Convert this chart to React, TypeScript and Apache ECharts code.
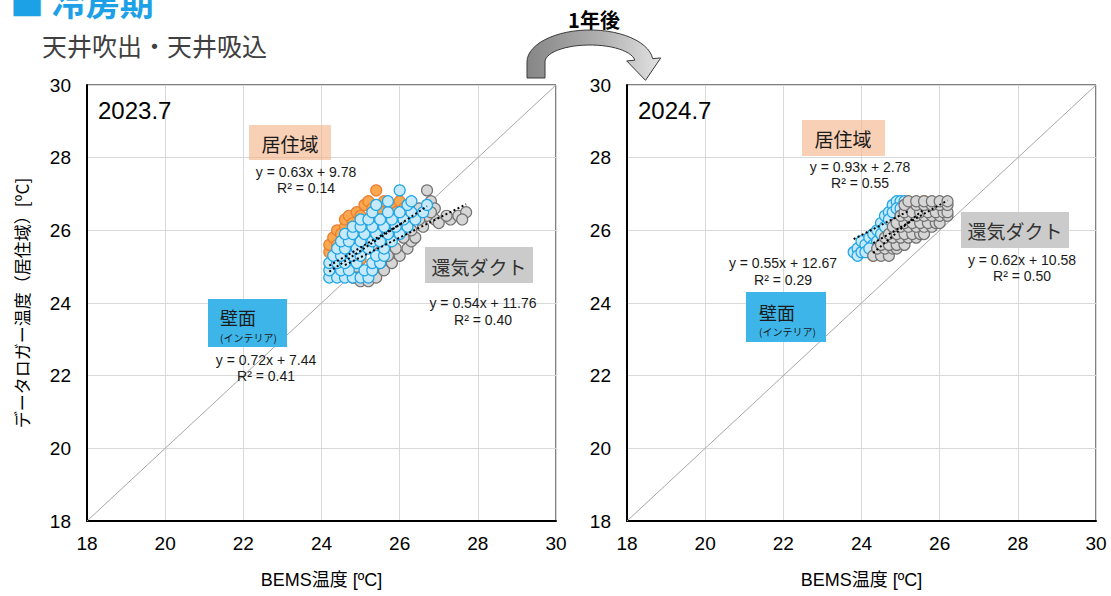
import React, { useEffect, useRef } from "react";
import * as echarts from "echarts";

type Pt = [number, number];

// Axis range shared by both panels
const AXIS_MIN = 18;
const AXIS_MAX = 30;
const AXIS_STEP = 2;

const periods = ["2023.7", "2024.7"];
const zoneNames = ["居住域", "壁面", "還気ダクト"];

// ---- 2023.7 : logger temperature vs BEMS temperature ----
const living2023: Pt[] = [
  [24.2, 25.4], [24.2, 25.6], [24.3, 25.8], [24.4, 25.6], [24.4, 26.0], [24.5, 25.9],
  [24.6, 26.1], [24.6, 26.3], [24.7, 26.4], [24.8, 26.2], [24.9, 26.5], [25.0, 26.4],
  [25.1, 26.7], [25.2, 26.8], [25.4, 27.1], [25.3, 26.6], [25.5, 26.6], [25.6, 26.8],
  [25.8, 26.7], [26.0, 26.8], [25.7, 26.4], [25.9, 26.5], [26.1, 26.6], [24.5, 25.2],
  [24.8, 25.5], [25.0, 25.8], [25.2, 26.0], [25.4, 26.2], [25.6, 26.1], [24.7, 24.9],
  [24.9, 24.7], [25.1, 24.7], [24.8, 24.7], [25.3, 25.0], [25.0, 25.2], [24.3, 25.1],
  [24.6, 25.0], [25.8, 26.2],
];

const wall2023: Pt[] = [
  [24.2, 24.7], [24.4, 24.7], [24.6, 24.7], [24.8, 24.7], [25.0, 24.7], [25.2, 24.7],
  [24.2, 24.9], [24.5, 24.9], [24.7, 24.9], [25.1, 24.9], [25.3, 24.9],
  [24.2, 25.1], [24.4, 25.1], [24.6, 25.1], [24.9, 25.1], [25.3, 25.1], [25.5, 25.1],
  [24.3, 25.3], [24.5, 25.3], [24.8, 25.3], [25.0, 25.3], [25.4, 25.3], [25.6, 25.3],
  [24.4, 25.5], [24.6, 25.5], [24.9, 25.5], [25.2, 25.5], [25.6, 25.5],
  [24.5, 25.7], [24.7, 25.7], [25.0, 25.7], [25.3, 25.7], [25.5, 25.7], [25.8, 25.7],
  [24.6, 25.9], [24.8, 25.9], [25.1, 25.9], [25.4, 25.9], [25.7, 25.9], [26.0, 25.9],
  [24.8, 26.1], [25.0, 26.1], [25.3, 26.1], [25.6, 26.1], [25.9, 26.1], [26.2, 26.1],
  [25.0, 26.3], [25.2, 26.3], [25.5, 26.3], [25.8, 26.3], [26.1, 26.3], [26.4, 26.3],
  [25.3, 26.5], [25.7, 26.5], [26.0, 26.5], [26.3, 26.5], [26.6, 26.5],
  [25.4, 26.7], [26.2, 26.7], [26.7, 26.7], [25.7, 26.8], [26.3, 26.8], [26.0, 27.1],
];

const duct2023: Pt[] = [
  [24.6, 24.9], [24.8, 24.7], [25.0, 24.6], [25.2, 24.6], [25.4, 24.7], [25.6, 24.9],
  [25.8, 25.1], [26.0, 25.3], [26.2, 25.5], [26.3, 25.7], [26.4, 25.8], [26.6, 26.1],
  [26.9, 26.3], [27.0, 26.2], [27.3, 26.3], [27.5, 26.4], [27.7, 26.5], [27.6, 26.3],
  [27.2, 26.4], [26.7, 27.1], [26.8, 26.8], [26.9, 26.6], [26.7, 26.4], [26.5, 26.3],
  [26.3, 26.0], [26.1, 25.8], [25.9, 25.5], [25.7, 25.3], [25.5, 25.1], [25.3, 24.9],
  [25.1, 24.8], [24.9, 25.0], [24.7, 25.2], [25.0, 25.4], [25.3, 25.6], [25.6, 25.8],
  [25.9, 26.0], [26.2, 26.2], [26.5, 26.6], [26.8, 26.5],
];

// ---- 2024.7 ----
const living2024: Pt[] = [
  [24.3, 25.3], [24.4, 25.4], [24.5, 25.6], [24.6, 25.7], [24.7, 25.8], [24.8, 25.9],
  [24.9, 26.0], [25.0, 26.1], [25.1, 26.2], [25.2, 26.3], [25.3, 26.4], [25.4, 26.5],
  [25.5, 26.6], [25.6, 26.8], [25.3, 26.7], [24.9, 25.7], [25.1, 26.0], [25.4, 26.3],
];

const wall2024: Pt[] = [
  [23.8, 25.4], [23.9, 25.5], [23.9, 25.3], [24.0, 25.4], [24.0, 25.7], [24.1, 25.6],
  [24.2, 25.8], [24.1, 25.4], [24.3, 25.9], [24.4, 26.0], [24.3, 25.6], [24.5, 26.2],
  [24.4, 25.7], [24.6, 26.4], [24.5, 25.9], [24.7, 26.5], [24.6, 26.1], [24.8, 26.7],
  [24.7, 26.3], [24.9, 26.8], [25.0, 26.8], [24.8, 26.5], [24.9, 26.6], [25.1, 26.8],
  [25.0, 26.6], [24.6, 25.6], [24.8, 26.0], [24.9, 26.2], [25.0, 26.4], [25.2, 26.7],
  [24.2, 25.5], [24.4, 25.4], [24.5, 25.5],
];

const duct2024: Pt[] = [
  [24.3, 25.3], [24.5, 25.3], [24.7, 25.3],
  [24.4, 25.5], [24.6, 25.5], [24.8, 25.5], [24.9, 25.5],
  [24.5, 25.6], [24.7, 25.6], [24.9, 25.6], [25.1, 25.6],
  [24.6, 25.8], [24.8, 25.8], [25.0, 25.8], [25.2, 25.8], [25.4, 25.8],
  [24.7, 25.9], [24.9, 25.9], [25.1, 25.9], [25.3, 25.9], [25.5, 25.9], [25.6, 25.9],
  [24.8, 26.1], [25.0, 26.1], [25.2, 26.1], [25.4, 26.1], [25.6, 26.1], [25.8, 26.1],
  [24.9, 26.2], [25.1, 26.2], [25.3, 26.2], [25.5, 26.2], [25.7, 26.2], [25.9, 26.2], [26.0, 26.2],
  [25.0, 26.4], [25.2, 26.4], [25.4, 26.4], [25.6, 26.4], [25.8, 26.4], [26.0, 26.4], [26.2, 26.4],
  [25.1, 26.5], [25.3, 26.5], [25.5, 26.5], [25.7, 26.5], [25.9, 26.5], [26.1, 26.5], [26.2, 26.5],
  [25.1, 26.7], [25.4, 26.7], [25.6, 26.7], [25.8, 26.7], [26.0, 26.7], [26.2, 26.7],
  [25.2, 26.8], [25.4, 26.8], [25.6, 26.8], [25.8, 26.8], [26.0, 26.8], [26.2, 26.8],
];

// Linear fits: [slope, intercept, R²]
const fitLiving2023 = [0.63, 9.78, 0.14];
const fitWall2023 = [0.72, 7.44, 0.41];
const fitDuct2023 = [0.54, 11.76, 0.4];
const fitLiving2024 = [0.93, 2.78, 0.55];
const fitWall2024 = [0.55, 12.67, 0.29];
const fitDuct2024 = [0.62, 10.58, 0.5];

const LATIN = "'Liberation Sans', Arial, 'Noto Sans CJK JP', sans-serif";
const CJK = "'Noto Sans CJK JP', 'Liberation Sans', sans-serif";

const STYLE = {
  living: { fill: "#F9A84E", border: "#ED7D31" },
  wall: { fill: "#C6E9FB", border: "#1FA5E6" },
  duct: { fill: "#D6D6D6", border: "#737373" },
};

function scatterSeries(name: string, data: Pt[], idx: number, st: { fill: string; border: string }, z: number) {
  return {
    type: "scatter",
    name,
    xAxisIndex: idx,
    yAxisIndex: idx,
    data,
    symbol: "circle",
    symbolSize: 11,
    z,
    itemStyle: { color: st.fill, borderColor: st.border, borderWidth: 1.2, opacity: 1 },
    silent: true,
  };
}

function trendSeries(name: string, data: Pt[], fit: number[], idx: number) {
  const xs = data.map((p) => p[0]);
  const x0 = Math.min(...xs);
  const x1 = Math.max(...xs);
  return {
    type: "line",
    name: name + " 近似",
    xAxisIndex: idx,
    yAxisIndex: idx,
    data: [
      [x0, fit[0] * x0 + fit[1]],
      [x1, fit[0] * x1 + fit[1]],
    ],
    symbol: "none",
    z: 10,
    silent: true,
    lineStyle: { color: "#000", width: 2, type: [2, 2.5] },
  };
}

function diagonalSeries(idx: number) {
  return {
    type: "line",
    xAxisIndex: idx,
    yAxisIndex: idx,
    data: [
      [AXIS_MIN, AXIS_MIN],
      [AXIS_MAX, AXIS_MAX],
    ],
    symbol: "none",
    z: 1,
    silent: true,
    lineStyle: { color: "#A6A6A6", width: 1 },
  };
}

const eqText = (f: number[]) => `y = ${f[0].toFixed(2)}x + ${f[1].toFixed(2)}`;
const r2Text = (f: number[]) => `R² = ${f[2].toFixed(2)}`;

function text(x: number, y: number, str: string, font: string, fill = "#1A1A1A", align = "center") {
  return {
    type: "text",
    x,
    y,
    z: 50,
    silent: true,
    style: {
      text: str,
      font,
      fill,
      align,
      textAlign: align,
      verticalAlign: "middle",
      textVerticalAlign: "middle",
    },
  };
}

function box(x: number, y: number, w: number, h: number, fill: string, opacity = 1) {
  return {
    type: "rect",
    shape: { x, y, width: w, height: h },
    z: 40,
    silent: true,
    style: { fill, opacity },
  };
}

// Curved "one year later" arrow built from two concentric half-ellipses
function arrowPoints(): number[][] {
  const cx = 590;
  const cy = 62;
  const oRx = 63, oRy = 32;
  const iRx = 45, iRy = 17;
  const a0 = Math.PI;
  const a1 = (6 * Math.PI) / 180;
  const steps = 28;
  const pts: number[][] = [[cx - oRx, 78]];
  for (let i = 0; i <= steps; i++) {
    const t = a0 + (a1 - a0) * (i / steps);
    pts.push([cx + oRx * Math.cos(t), cy - oRy * Math.sin(t)]);
  }
  const oe = [cx + oRx * Math.cos(a1), cy - oRy * Math.sin(a1)];
  const ie = [cx + iRx * Math.cos(a1), cy - iRy * Math.sin(a1)];
  const dx = oe[0] - ie[0];
  const dy = oe[1] - ie[1];
  const len = Math.hypot(dx, dy);
  const nx = -dy / len;
  const ny = dx / len;
  const mx = (oe[0] + ie[0]) / 2;
  const my = (oe[1] + ie[1]) / 2;
  const w = 0.45;
  pts.push([oe[0] + dx * w, oe[1] + dy * w]);
  pts.push([mx + nx * 21, my + ny * 21]);
  pts.push([ie[0] - dx * w, ie[1] - dy * w]);
  for (let i = steps; i >= 0; i--) {
    const t = a0 + (a1 - a0) * (i / steps);
    pts.push([cx + iRx * Math.cos(t), cy - iRy * Math.sin(t)]);
  }
  pts.push([cx - iRx, 78]);
  return pts;
}

function buildOption() {
  const grid = (left: number) => ({
    left,
    top: 85,
    width: 469,
    height: 436,
    show: true,
    borderColor: "#000",
    borderWidth: 1,
    backgroundColor: "transparent",
  });

  const xAxis = (gridIndex: number) => ({
    type: "value",
    gridIndex,
    min: AXIS_MIN,
    max: AXIS_MAX,
    interval: AXIS_STEP,
    name: "BEMS温度 [ºC]",
    nameLocation: "middle",
    nameGap: 50,
    nameTextStyle: { fontSize: 18, color: "#000", fontFamily: LATIN },
    axisLine: { show: true, onZero: false, lineStyle: { color: "#000", width: 2 } },
    axisTick: { show: false },
    axisLabel: { color: "#000", fontSize: 19, margin: 13, fontFamily: LATIN },
    splitLine: { show: true, lineStyle: { color: "#D9D9D9", width: 1 } },
  });

  const yAxis = (gridIndex: number, withName: boolean) => ({
    type: "value",
    gridIndex,
    min: AXIS_MIN,
    max: AXIS_MAX,
    interval: AXIS_STEP,
    name: withName ? "データロガー温度（居住域）[ºC]" : "",
    nameLocation: "middle",
    nameGap: 57,
    nameTextStyle: { fontSize: 17, color: "#000", fontFamily: CJK },
    axisLine: { show: true, onZero: false, lineStyle: { color: "#000", width: 2 } },
    axisTick: { show: false },
    axisLabel: { color: "#000", fontSize: 19, margin: 16, fontFamily: LATIN },
    splitLine: { show: true, lineStyle: { color: "#D9D9D9", width: 1 } },
  });

  const series = [
    diagonalSeries(0),
    scatterSeries(zoneNames[0], living2023, 0, STYLE.living, 2),
    scatterSeries(zoneNames[2], duct2023, 0, STYLE.duct, 3),
    scatterSeries(zoneNames[1], wall2023, 0, STYLE.wall, 4),
    trendSeries(zoneNames[0], living2023, fitLiving2023, 0),
    trendSeries(zoneNames[2], duct2023, fitDuct2023, 0),
    trendSeries(zoneNames[1], wall2023, fitWall2023, 0),

    diagonalSeries(1),
    scatterSeries(zoneNames[0], living2024, 1, STYLE.living, 2),
    scatterSeries(zoneNames[1], wall2024, 1, STYLE.wall, 3),
    scatterSeries(zoneNames[2], duct2024, 1, STYLE.duct, 4),
    trendSeries(zoneNames[0], living2024, fitLiving2024, 1),
    trendSeries(zoneNames[1], wall2024, fitWall2024, 1),
    trendSeries(zoneNames[2], duct2024, fitDuct2024, 1),
  ];

  const eqFont = `14px ${LATIN}`;
  const tagFont = `19px ${CJK}`;
  const smallFont = `10px ${CJK}`;

  const elements: any[] = [
    // heading
    text(10, 1, "■ 冷房期", `bold 34px ${CJK}`, "#1DA1E6", "left"),
    text(42, 45, "天井吹出・天井吸込", `25px ${CJK}`, "#404040", "left"),
    text(594, 19, "1年後", `bold 20px ${CJK}`, "#000"),
    {
      type: "polygon",
      z: 60,
      silent: true,
      shape: { points: arrowPoints() },
      style: {
        fill: new echarts.graphic.LinearGradient(0, 0, 1, 0, [
          { offset: 0, color: "#868686" },
          { offset: 0.55, color: "#B0B0B0" },
          { offset: 1, color: "#E2E2E2" },
        ]),
        stroke: "#3A3A3A",
        lineWidth: 1,
      },
    },

    // period labels
    text(98, 110, periods[0], `24px ${LATIN}`, "#000", "left"),
    text(638, 110, periods[1], `24px ${LATIN}`, "#000", "left"),

    // 2023.7 annotations
    box(249, 125, 82, 35, "#F4B183", 0.6),
    text(290, 143, zoneNames[0], tagFont),
    text(306, 172, eqText(fitLiving2023), eqFont),
    text(306, 188, r2Text(fitLiving2023), eqFont),

    box(208, 299, 79, 48, "#3DB5E9"),
    text(220, 317, zoneNames[1], `18px ${CJK}`, "#1A1A1A", "left"),
    text(220, 337, "(インテリア)", smallFont, "#1A1A1A", "left"),
    text(266, 360, eqText(fitWall2023), eqFont),
    text(266, 376, r2Text(fitWall2023), eqFont),

    box(425, 247, 108, 36, "#CBCBCB"),
    text(479, 266, zoneNames[2], tagFont, "#333"),
    text(483, 303, eqText(fitDuct2023), eqFont),
    text(483, 320, r2Text(fitDuct2023), eqFont),

    // 2024.7 annotations
    box(802, 120, 83, 36, "#F4B183", 0.6),
    text(843, 138, zoneNames[0], tagFont),
    text(860, 167, eqText(fitLiving2024), eqFont),
    text(860, 183, r2Text(fitLiving2024), eqFont),

    box(746, 292, 80, 50, "#3DB5E9"),
    text(759, 312, zoneNames[1], `18px ${CJK}`, "#1A1A1A", "left"),
    text(759, 331, "(インテリア)", smallFont, "#1A1A1A", "left"),
    text(783, 263, eqText(fitWall2024), eqFont),
    text(783, 280, r2Text(fitWall2024), eqFont),

    box(961, 212, 108, 36, "#CBCBCB"),
    text(1015, 230, zoneNames[2], tagFont, "#333"),
    text(1022, 260, eqText(fitDuct2024), eqFont),
    text(1022, 276, r2Text(fitDuct2024), eqFont),
  ];

  return {
    animation: false,
    backgroundColor: "#fff",
    textStyle: { fontFamily: LATIN },
    grid: [grid(87), grid(627)],
    xAxis: [xAxis(0), xAxis(1)],
    yAxis: [yAxis(0, true), yAxis(1, false)],
    series,
    graphic: { elements },
  };
}

export default function App() {
  const ref = useRef<HTMLDivElement>(null);

  useEffect(() => {
    if (!ref.current) return;
    const chart = echarts.init(ref.current, undefined, { renderer: "svg" });
    chart.setOption(buildOption() as any);
    return () => chart.dispose();
  }, []);

  return (
    <div
      ref={ref}
      style={{ position: "fixed", left: 0, top: 0, width: 1111, height: 596, background: "#fff" }}
    />
  );
}
